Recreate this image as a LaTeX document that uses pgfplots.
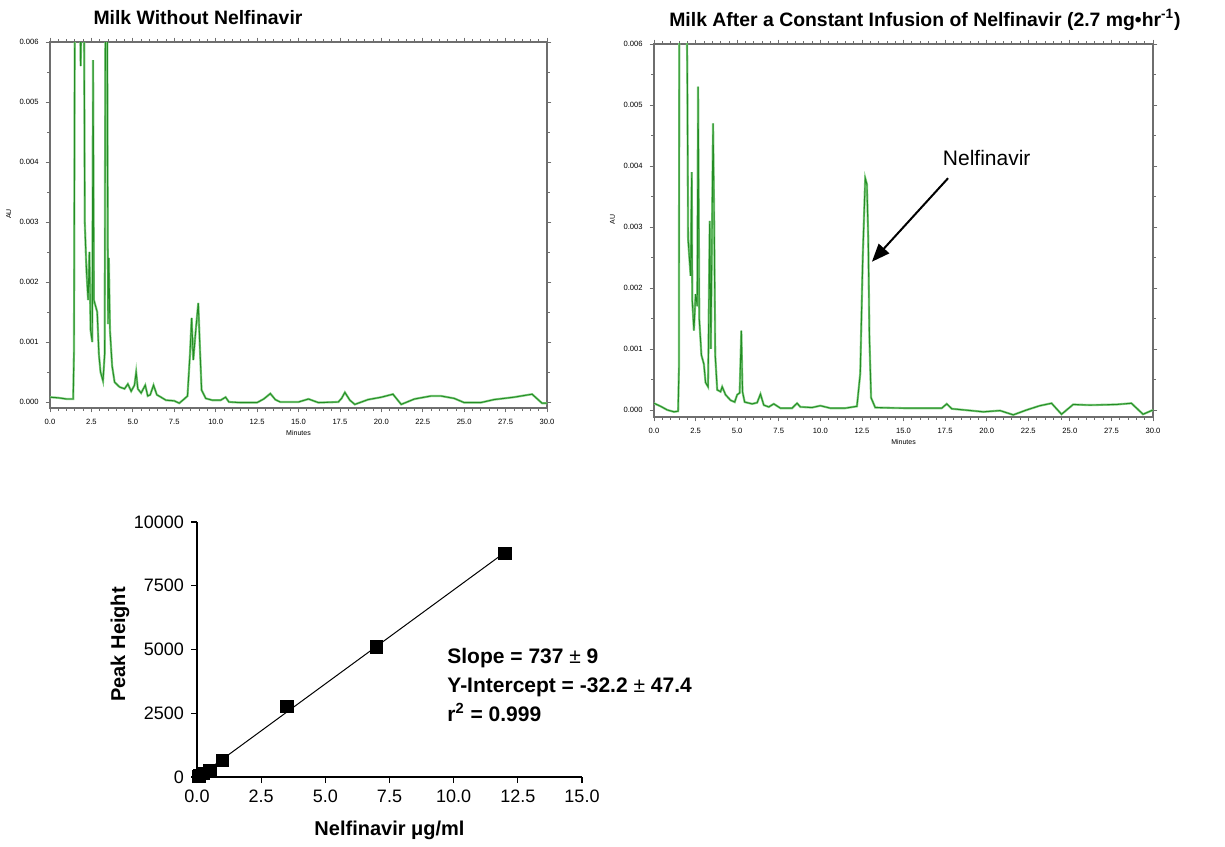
\documentclass[border=0pt]{standalone}
\usepackage{fontspec}
\setmainfont{Liberation Sans}
\usepackage{pgfplots}
\pgfplotsset{compat=1.18}
\usetikzlibrary{arrows.meta}

\definecolor{traceL}{RGB}{130,205,130}
\definecolor{traceD}{RGB}{35,140,35}
\definecolor{frame}{RGB}{110,110,110}

\pgfplotsset{
  chrom/.style={
    scale only axis, clip=true,
    xmin=0, xmax=30,
    xtick={0,2.5,5,7.5,10,12.5,15,17.5,20,22.5,25,27.5,30},
    ytick={0,0.001,0.002,0.003,0.004,0.005,0.006},
    minor x tick num=4, minor y tick num=1,
    tick align=outside,
    axis line style={frame, line width=0.7pt},
    tick style={frame, line width=0.35pt},
    major tick length=2.2pt, minor tick length=1.3pt,
    tick label style={font=\fontsize{3.8}{4.2}\selectfont},
    xticklabel style={/pgf/number format/.cd,fixed,fixed zerofill,precision=1},
    yticklabel style={/pgf/number format/.cd,fixed,fixed zerofill,precision=3},
    /pgf/number format/assume math mode=true,
    scaled y ticks=false, scaled x ticks=false,
    xlabel={Minutes}, ylabel={AU},
    label style={font=\fontsize{3.5}{4}\selectfont},
    xlabel style={at={(axis description cs:0.5,0)}, anchor=center, yshift=-12.5pt},
    ylabel style={at={(axis description cs:-0.083,0.53)}, anchor=center},
  },
  tr/.style={no marks, sharp plot},
}

\pgfplotstableread{
x y
0.0 0.00008
0.5 0.00007
1.0 0.00005
1.4 0.00005
1.45 0.0009
1.5 0.007
1.8 0.007
1.85 0.0056
1.95 0.007
2.05 0.007
2.1 0.003
2.2 0.0022
2.3 0.0017
2.38 0.0025
2.45 0.0012
2.55 0.001
2.6 0.0057
2.65 0.0017
2.75 0.0016
2.85 0.0015
2.95 0.0008
3.05 0.0005
3.2 0.00035
3.3 0.0008
3.35 0.007
3.45 0.007
3.5 0.0013
3.55 0.0024
3.62 0.0012
3.75 0.0006
3.9 0.00033
4.2 0.00025
4.5 0.00022
4.7 0.0003
4.9 0.00018
5.1 0.00028
5.2 0.0005
5.3 0.00022
5.5 0.00015
5.75 0.00028
5.9 0.0001
6.05 0.00012
6.25 0.00028
6.45 0.00012
6.7 0.00008
7.0 0.00003
7.5 0.00002
7.8 -0.00002
8.1 0.00005
8.3 0.0001
8.45 0.0008
8.55 0.0014
8.65 0.0007
8.8 0.0012
8.95 0.00165
9.05 0.0009
9.15 0.0002
9.4 0.00006
9.8 0.00003
10.3 0.00003
10.6 0.00008
10.8 0.0
11.5 -0.00001
12.5 -0.00001
12.9 0.00005
13.3 0.00014
13.6 0.00004
13.9 0.0
15.0 0.0
15.6 0.00005
16.2 -0.00001
17.4 0.0
17.6 0.00006
17.8 0.00016
18.1 0.00003
18.4 -0.00004
19.2 0.00004
20.0 0.00008
20.7 0.00013
21.2 -0.00004
22.0 0.00005
23.0 0.0001
23.6 0.0001
24.4 0.00006
25.0 -0.00001
26.0 -0.00001
26.8 0.00004
28.0 0.00008
29.1 0.00013
29.7 -0.00002
30.0 -0.00002
}\milkA

\pgfplotstableread{
x y
0.0 0.00011
0.4 0.00006
0.8 0.0
1.2 -0.00003
1.45 -0.00002
1.5 0.0007
1.52 0.007
1.95 0.007
2.0 0.0056
2.05 0.0028
2.1 0.0026
2.2 0.0022
2.27 0.0039
2.3 0.0018
2.4 0.0013
2.5 0.0019
2.6 0.0017
2.65 0.0053
2.72 0.0015
2.85 0.0009
3.0 0.00075
3.1 0.00045
3.25 0.00038
3.35 0.0031
3.42 0.001
3.55 0.0047
3.62 0.003
3.68 0.0009
3.8 0.00033
4.0 0.0003
4.1 0.00038
4.3 0.00025
4.6 0.00016
4.85 0.00013
5.0 0.00025
5.15 0.00028
5.25 0.0013
5.32 0.0003
5.45 0.00013
5.9 0.0001
6.2 0.00012
6.4 0.00026
6.6 0.00008
6.9 0.00005
7.2 0.0001
7.6 0.00003
8.3 0.00003
8.6 0.00011
8.8 0.00005
9.5 0.00004
10.0 0.00007
10.6 0.00003
11.5 0.00003
12.2 0.00006
12.4 0.0006
12.55 0.0025
12.7 0.0038
12.8 0.0037
12.88 0.0028
12.95 0.0012
13.05 0.0002
13.3 0.00004
15.0 0.00003
17.3 0.00003
17.6 0.0001
17.9 0.00002
19.8 -0.00003
20.8 -0.00001
21.6 -0.00008
22.4 0.0
23.2 0.00007
23.9 0.00011
24.5 -0.00007
25.2 0.00009
26.2 0.00008
27.8 0.00009
28.7 0.00011
29.4 -0.00007
30.0 0.0
}\milkB

\pgfplotstableread{
x y
0.05 15
0.1 50
0.25 150
0.5 250
1.0 660
3.5 2760
7.0 5100
12.0 8780
}\calib

\begin{document}
\begin{tikzpicture}
\useasboundingbox (0,0) rectangle (612.5pt,423pt);

% Titles
\node[font=\bfseries\fontsize{9.7}{11}\selectfont] at (99pt,414pt) {Milk Without Nelfinavir};
\node[font=\bfseries\fontsize{9.7}{11}\selectfont] at (462.5pt,413pt) {Milk After a Constant Infusion of Nelfinavir (2.7 mg•hr\textsuperscript{-1})};

% Top-left chromatogram
\begin{axis}[chrom, at={(25pt,219pt)}, anchor=south west,
  width=248.5pt, height=183pt, ymin=-0.0001, ymax=0.006]
  \addplot[tr, traceL, line width=1.1pt] table[x=x,y=y] {\milkA};
  \addplot[tr, traceD, line width=0.45pt] table[x=x,y=y] {\milkA};
\end{axis}

% Top-right chromatogram
\begin{axis}[chrom, at={(327pt,214.5pt)}, anchor=south west,
  width=249.5pt, height=186.5pt, ymin=-0.000115, ymax=0.006]
  \addplot[tr, traceL, line width=1.1pt] table[x=x,y=y] {\milkB};
  \addplot[tr, traceD, line width=0.45pt] table[x=x,y=y] {\milkB};
  \draw[line width=1pt, -{Triangle[length=9pt,width=7pt]}] (axis cs:17.68,0.0038) -- (axis cs:13.1,0.00243);
  \node[font=\fontsize{10.5}{12}\selectfont] at (axis cs:20.0,0.00413) {Nelfinavir};
\end{axis}

% Calibration curve
\begin{axis}[at={(98.5pt,34.5pt)}, anchor=south west, scale only axis,
  width=192.5pt, height=127.5pt,
  xmin=0, xmax=15, ymin=0, ymax=10000,
  axis x line*=bottom, axis y line*=left,
  xtick={0,2.5,5,7.5,10,12.5,15},
  ytick={0,2500,5000,7500,10000},
  tick align=outside, major tick length=3pt,
  axis line style={line width=0.6pt},
  tick style={black, line width=0.6pt},
  xticklabel style={/pgf/number format/.cd,fixed,fixed zerofill,precision=1},
  yticklabel style={/pgf/number format/.cd,fixed,1000 sep={}},
  scaled ticks=false,
  /pgf/number format/assume math mode=true,
  tick label style={font=\fontsize{9}{10}\selectfont},
  xlabel={Nelfinavir μg/ml}, ylabel={Peak Height},
  label style={font=\bfseries\fontsize{10}{12}\selectfont},
  xlabel style={at={(axis description cs:0.5,0)}, anchor=center, yshift=-26.5pt},
  ylabel style={at={(axis description cs:-0.2,0.52)}, anchor=center},
  clip=false]
  \addplot[black, line width=0.5pt, no marks] coordinates {(0.0437,0) (12,8812)};
  \addplot[only marks, mark=square*, mark size=3.1pt, black] table[x=x,y=y] {\calib};
  \node[anchor=north west, align=left, inner sep=0pt,
        font=\bfseries\fontsize{10.5}{14.5}\selectfont] at (axis cs:9.74,5059)
    {Slope = 737 {\mdseries ±} 9\\Y-Intercept = -32.2 {\mdseries ±} 47.4\\r\textsuperscript{2} = 0.999};
\end{axis}
\end{tikzpicture}
\end{document}
